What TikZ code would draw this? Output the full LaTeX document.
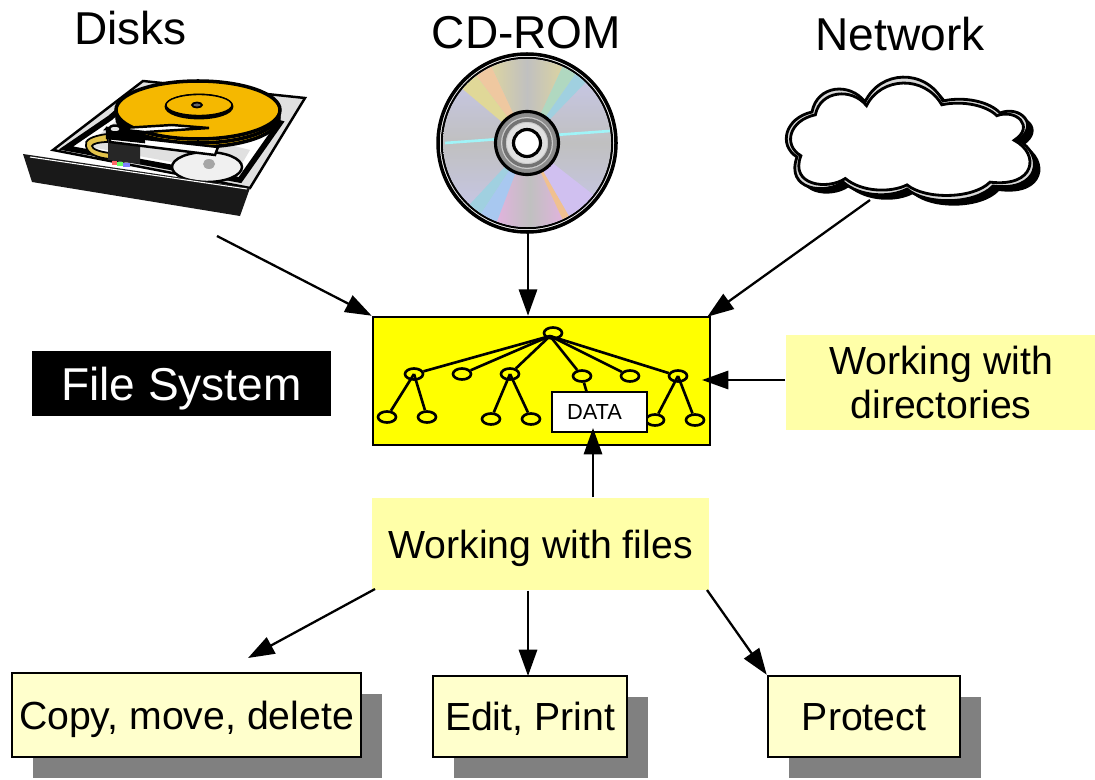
\documentclass[tikz,border=0pt]{standalone}
\usepackage{fontspec}
\setmainfont{Liberation Sans}
\usepackage{tikz}
\usetikzlibrary{calc, arrows.meta, shapes.geometric}

\definecolor{fsyellow}{RGB}{255,255,0}
\definecolor{paleyellow}{HTML}{FFFFA8}
\definecolor{boxyellow}{HTML}{FFFFCC}
\definecolor{platter}{HTML}{F5B800}
\definecolor{ribbon}{HTML}{E2C24A}
\definecolor{discgray}{HTML}{C0C0C0}
\definecolor{disclav}{HTML}{C8C8F0}
\definecolor{discbeige}{HTML}{DCD4A0}
\definecolor{discpink}{HTML}{E8B0E4}
\definecolor{discray}{HTML}{A0F4F8}

\newcommand{\cloudpath}{(812,112) .. controls (817,85) and (850,82) .. (865,102)
  .. controls (880,70) and (925,68) .. (943,101)
  .. controls (965,96) and (990,102) .. (1000,113)
  .. controls (1020,105) and (1040,125) .. (1018,140)
  .. controls (1045,155) and (1040,192) .. (993,186)
  .. controls (975,205) and (925,205) .. (907,189)
  .. controls (890,198) and (860,197) .. (843,182)
  .. controls (825,195) and (785,190) .. (797,157)
  .. controls (778,145) and (785,118) .. (812,112) -- cycle}
\newcommand{\discwedge}[2]{(cd) -- ($(cd)+({130*cos(#1)},{-130*sin(#1)})$)
  -- ($(cd)+({130*cos((#1+#2)/2)},{-130*sin((#1+#2)/2)})$)
  -- ($(cd)+({130*cos(#2)},{-130*sin(#2)})$) -- cycle}

\tikzset{
  bigtext/.style={font=\fontsize{13.1}{15}\selectfont},
  midtext/.style={font=\fontsize{11.15}{12.3}\selectfont, align=center},
  paper/.style={midtext, draw, line width=0.7pt, fill=boxyellow, inner sep=0pt, text depth=0pt},
  patch/.style={midtext, fill=paleyellow, inner sep=0pt},
  dirnode/.style={draw, ellipse, line width=0.75pt, minimum width=0.18cm, minimum height=0.11cm, inner sep=0pt},
  conn/.style={line width=0.65pt, -{Triangle[length=7.5pt, width=5.2pt]}},
  shadow/.style={fill=black!50}
}

\begin{document}
\begin{tikzpicture}[x=0.01cm, y=-0.01cm]
    \useasboundingbox (0,0) rectangle (1095,779);

    % titles
    \node[bigtext] (disks) at (130.5,28) {Disks};
    \node[bigtext] (cdrom) at (526.5,33) {CD-ROM};
    \node[bigtext] (network) at (900,34) {Network};

    % hard disk
    \draw[line width=0.7pt, fill=black!12] (143,81) -- (305,98) -- (250,188) -- (53,150) -- cycle;
    \draw[line width=1.6pt, fill=white] (140,92) -- (110,118) -- (66,148) -- (240,180) -- (280,123) -- (200,100) -- cycle;
    \fill[black!12] (120,118) -- (85,146) -- (236,174) -- (250,150) -- (190,135) -- cycle;
    \draw[line width=1pt, fill=platter] (198,118) ellipse (81 and 29);
    \draw[line width=1pt, fill=platter] (198,114) ellipse (81 and 29);
    \draw[line width=1pt, fill=platter] (198,110) ellipse (82 and 29);
    \draw[line width=0.8pt, fill=black] (199,106.5) ellipse (33 and 11.5);
    \draw[line width=0.4pt, fill=platter] (199,105) ellipse (33 and 10.5);
    \draw[line width=0.5pt, fill=black!60] (197,105) ellipse (5 and 2.5);
    \draw[line width=0.5pt, fill=ribbon] (107,134) .. controls (92,136) and (84,140) .. (86,146)
        .. controls (87,154) and (98,158) .. (110,159) -- (110,153)
        .. controls (100,152) and (92,149) .. (92,146) .. controls (92,144) and (99,142) .. (108,142) -- cycle;
    \draw[line width=0.7pt, fill=black!6] (207,167) ellipse (35 and 15);
    \fill[black!35] (209,164) ellipse (6 and 5);
    \fill[black!85] (108,140) -- (140,142) -- (140,164) -- (108,160) -- cycle;
    \fill[red!60] (112,161) rectangle (117,165);
    \fill[green!60] (117,162) rectangle (123,166);
    \fill[blue!50] (123,163) rectangle (130,167);
    \draw[line width=0.7pt, fill=white] (110,142) -- (215,155) -- (218,147) -- (110,135) -- cycle;
    \draw[line width=0.7pt, fill=black] (107,128) -- (144,132) -- (144,142) -- (107,138) -- cycle;
    \draw[line width=0.7pt, fill=white] (107,128) -- (106,129) -- (172,125) -- (209,128) -- (146,132) -- (144,132) -- cycle;
    \draw[line width=0.7pt, fill=black!10] (115,129) ellipse (6 and 3.5);
    \fill[black!90] (23,154) -- (250,188) -- (240,216) -- (32,182) -- cycle;
    \draw[line width=0.3pt, white] (30,157) -- (247,189);

    % cd
    \coordinate (cd) at (527,143);
    \draw[line width=1pt, fill=white] (cd) circle (89);
    \draw[line width=0.7pt] (cd) circle (85);
    \begin{scope}
        \clip (cd) circle (84);
        \shade[top color=disclav, bottom color=disclav, middle color=discgray] (440,58) rectangle (612,228);
        \begin{scope}
            \clip \discwedge{65}{115};
            \shade[left color=discbeige, right color=discbeige, middle color=discgray] (490,50) rectangle (564,150);
        \end{scope}
        \begin{scope}
            \clip \discwedge{249}{295};
            \shade[left color=discpink, right color=discpink, middle color=discgray] (490,140) rectangle (570,240);
        \end{scope}
        \foreach \a/\b/\c in {115/127/EFC8A0, 127/140/E0D898, 46/55/A0D0E0, 55/65/B0D8C0,
            227/237/A0D0E0, 237/249/A8C8F0, 295/300/F0C090, 300/322/D0C0F0} {
            \definecolor{wedgecolor}{HTML}{\c}
            \fill[wedgecolor] \discwedge{\a}{\b};
        }
        \draw[line width=0.75pt, discray] (445,143) -- (610,131);
    \end{scope}
    \draw[line width=0.9pt, fill=black!45] (cd) circle (31.5);
    \fill[black!20] (cd) circle (26);
    \draw[line width=1pt, black!55] (cd) circle (23);
    \fill[black!12] (cd) circle (20);
    \draw[line width=0.9pt, fill=white] (cd) circle (13.5);

    % cloud
    \begin{scope}[shift={(6,5)}]
        \fill[black] \cloudpath;
    \end{scope}
    \draw[line width=0.8pt, fill=black!15] \cloudpath;
    \begin{scope}[shift={(908,143)}, xscale=0.965, yscale=0.91, shift={(-908,-143)}]
        \draw[line width=0.8pt, fill=white] \cloudpath;
    \end{scope}

    % file system box
    \node[draw, line width=0.7pt, fill=fsyellow, minimum width=3.37cm, minimum height=1.28cm] (fsbox) at (541.5,381) {};
    \node[dirnode] (root) at (553,333) {};
    \node[dirnode] (a) at (414,374) {};
    \node[dirnode] (b) at (462,374) {};
    \node[dirnode] (c) at (510,374) {};
    \node[dirnode] (d) at (582,376) {};
    \node[dirnode] (e) at (630,376) {};
    \node[dirnode] (f) at (678,376) {};
    \node[dirnode] (a1) at (387,417) {};
    \node[dirnode] (a2) at (427,417) {};
    \node[dirnode] (c1) at (491,419) {};
    \node[dirnode] (c2) at (531,419) {};
    \node[dirnode] (f1) at (655,420) {};
    \node[dirnode] (f2) at (695,420) {};
    \foreach \n in {a,b,c,d,e,f} {
        \draw[line width=0.75pt] ($(root.center)+(-3,3)$) -- (\n);
    }
    \foreach \p/\n in {a/a1, a/a2, c/c1, c/c2, f/f1, f/f2} {
        \draw[line width=0.75pt] (\p.center) -- (\n);
    }
    \coordinate (dataedge) at (589,400);
    \draw[line width=0.75pt] (d) -- (dataedge);
    \node[draw, line width=0.7pt, fill=white, minimum width=0.95cm, minimum height=0.40cm, inner sep=0pt,
        font=\fontsize{6.2}{7}\selectfont] (data) at (599.5,412) {\hspace*{-0.1cm}DATA};

    % labels
    \node[bigtext, fill=black, text=white, text depth=0pt, minimum width=2.99cm, minimum height=0.65cm, inner sep=0pt] (fsname) at (181.5,383.5) {File System};
    \node[patch, minimum width=3.10cm, minimum height=0.95cm] (dirs) at (941,382.5) {Working with\\directories};
    \node[patch, text depth=0pt, minimum width=3.37cm, minimum height=0.92cm] (files) at (540.5,544) {Working with files};

    % bottom boxes
    \fill[shadow] (33,694) rectangle (382,778);
    \fill[shadow] (454,697) rectangle (648,778);
    \fill[shadow] (789,697) rectangle (981,778);
    \node[paper, minimum width=3.49cm, minimum height=0.84cm] (copy) at (186.5,715) {Copy, move, delete};
    \node[paper, minimum width=1.94cm, minimum height=0.81cm] (edit) at (530,716.5) {Edit, Print};
    \node[paper, minimum width=1.92cm, minimum height=0.81cm] (protect) at (864,716.5) {Protect};

    % connectors
    \coordinate (diskend) at (217,236);
    \coordinate (cdend) at (528,232);
    \coordinate (cloudend) at (870,200);
    \coordinate (copytip) at (248,658);
    \coordinate (filesleft) at (375,589);
    \coordinate (filesright) at (707,590);
    \coordinate (datatip) at (593,428);
    \coordinate (dirstip) at (702,380);
    \coordinate (edittip) at (528,676);
    \draw[conn] (diskend) -- (fsbox.north west);
    \draw[conn] (cdend) -- (cdend |- fsbox.north);
    \draw[conn] (cloudend) -- ($(fsbox.north east)+(-4,1)$);
    \draw[conn] (dirs.west |- dirstip) -- (dirstip);
    \draw[conn] (datatip |- files.north) -- (datatip);
    \draw[conn] (filesleft) -- (copytip);
    \draw[conn] (edittip |- files.south) -- (edittip);
    \draw[conn] (filesright) -- (protect.north west);
\end{tikzpicture}
\end{document}
